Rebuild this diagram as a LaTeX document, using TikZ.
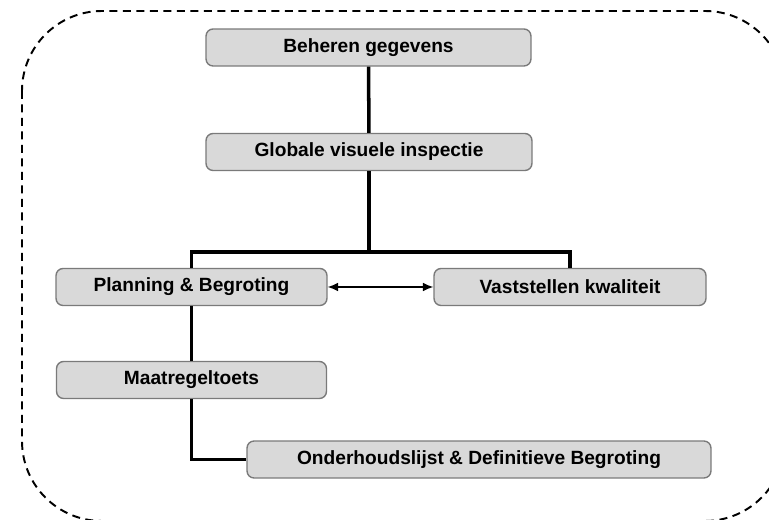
\documentclass[tikz,border=0pt]{standalone}
\usepackage{fontspec}
\setmainfont{Liberation Sans}
\usetikzlibrary{arrows.meta}
\definecolor{boxfill}{HTML}{D9D9D9}
\definecolor{boxline}{HTML}{7A7A7A}
\begin{document}
\begin{tikzpicture}[x=0.02cm,y=-0.02cm]
      \tikzstyle{box}=[draw=boxline,fill=boxfill,line width=0.8pt,rounded corners=4pt,minimum height=0.74cm,inner sep=0pt,font=\fontsize{10.9}{13}\selectfont\bfseries]
      \tikzstyle{conn}=[draw,line width=2pt]
      \tikzstyle{link}=[draw,line width=0.7pt,{Latex[length=6pt,width=5pt]}-{Latex[length=6pt,width=5pt]}]
      \useasboundingbox (0,0) rectangle (769,520);
      \begin{scope}
        \clip (0,0) rectangle (769,520);
        \path[draw,line width=1.1pt,dash pattern=on 0.16cm off 0.11cm,rounded corners=1.6cm] (22,11) rectangle (785,521);
      \end{scope}
      \node[box,minimum width=6.5cm] (beheren) at (368.5,47.5) {Beheren gegevens};
      \node[box,minimum width=6.52cm] (globale) at (369,152) {Globale visuele inspectie};
      \node[box,minimum width=5.42cm] (planning) at (191.5,287) {Planning \& Begroting};
      \node[box,minimum width=5.44cm] (vaststellen) at (570,287) {Vaststellen kwaliteit};
      \node[box,minimum width=5.4cm] (maatregel) at (191.5,380) {Maatregeltoets};
      \node[box,minimum width=9.28cm] (onderhoud) at (479,459.5) {Onderhoudslijst \& Definitieve Begroting};
      \coordinate (split) at (369,252);
      \path[conn] (beheren) -- (globale);
      \path[conn] (globale) -- (split) -| (planning);
      \path[conn] (split) -| (vaststellen);
      \path[conn] (planning) -- (maatregel);
      \path[conn] (maatregel) |- (onderhoud);
      \path[link] (planning) -- (vaststellen);
    \end{tikzpicture}
\end{document}
